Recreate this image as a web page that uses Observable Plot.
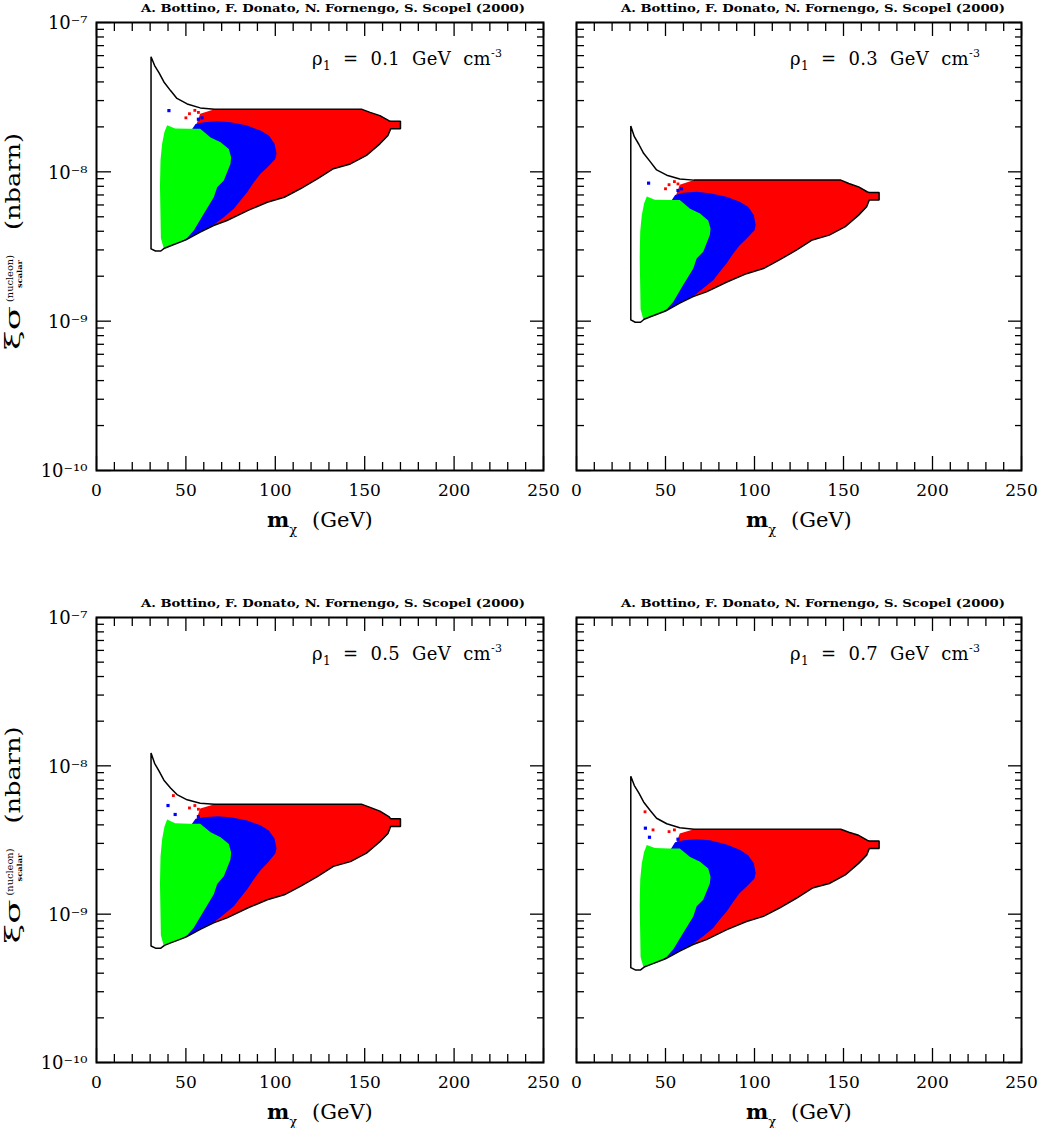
<!DOCTYPE html>
<html><head><meta charset="utf-8">
<script src="https://cdn.jsdelivr.net/npm/d3@7"></script>
<script src="https://cdn.jsdelivr.net/npm/@observablehq/plot@0.6"></script>
<style>
html,body{margin:0;padding:0;background:#fff;}
#wrap{position:relative;width:1038px;height:1128px;overflow:hidden;background:#fff;}
#wrap svg{position:absolute;}
</style></head><body><div id="wrap"></div>
<script>
// ---------- tick positions and labels ----------
const majorX = [0, 50, 100, 150, 200, 250];
const minorX = [10, 20, 30, 40, 60, 70, 80, 90, 110, 120, 130, 140, 160, 170, 180, 190, 210, 220, 230, 240];
const xTickLabels = ["0", "50", "100", "150", "200", "250"];
const majorY = [1e-10, 1e-9, 1e-8, 1e-7];
const minorY = [2e-10, 3e-10, 4e-10, 5e-10, 6e-10, 7e-10, 8e-10, 9e-10,
                2e-9, 3e-9, 4e-9, 5e-9, 6e-9, 7e-9, 8e-9, 9e-9,
                2e-8, 3e-8, 4e-8, 5e-8, 6e-8, 7e-8, 8e-8, 9e-8];
const yTickLabels = ["10⁻¹⁰", "10⁻⁹", "10⁻⁸", "10⁻⁷"];
const rhoValues = ["0.1", "0.3", "0.5", "0.7"];
const headerText = "A. Bottino, F. Donato, N. Fornengo, S. Scopel (2000)";

// ---------- boundary of the scanned region (m_chi in GeV) ----------
const outlineM = [30.5, 30.5, 32.5, 35, 37.7, 41.4, 45, 50.7, 58, 66, 148.5, 153, 158.5, 163.5, 164.5, 170, 170, 164.5, 163, 158.5, 151, 142, 132.5, 123.5, 114, 105, 95.5, 84.5, 73, 65.5, 58, 50, 41.5, 38, 36, 33, 30.5];
const outlineS_01 = [3.05e-9, 5.9e-8, 5.15e-8, 4.6e-8, 4.0e-8, 3.5e-8, 3.1e-8, 2.85e-8, 2.68e-8, 2.62e-8, 2.62e-8, 2.5e-8, 2.38e-8, 2.2e-8, 2.18e-8, 2.18e-8, 1.94e-8, 1.94e-8, 1.75e-8, 1.54e-8, 1.29e-8, 1.13e-8, 1.05e-8, 8.97e-9, 7.7e-9, 6.76e-9, 6.25e-9, 5.5e-9, 4.72e-9, 4.37e-9, 3.95e-9, 3.5e-9, 3.2e-9, 3.08e-9, 2.95e-9, 2.95e-9, 3.05e-9];
const outlineS_03 = [1.02e-9, 2.03e-8, 1.72e-8, 1.53e-8, 1.33e-8, 1.17e-8, 1.03e-8, 9.5e-9, 8.95e-9, 8.8e-9, 8.8e-9, 8.35e-9, 7.93e-9, 7.33e-9, 7.27e-9, 7.27e-9, 6.47e-9, 6.47e-9, 5.83e-9, 5.13e-9, 4.3e-9, 3.77e-9, 3.5e-9, 2.99e-9, 2.57e-9, 2.25e-9, 2.08e-9, 1.83e-9, 1.57e-9, 1.46e-9, 1.32e-9, 1.17e-9, 1.07e-9, 1.03e-9, 9.83e-10, 9.83e-10, 1.02e-9];
const outlineS_05 = [6.1e-10, 1.22e-8, 1.04e-8, 9.2e-9, 8.0e-9, 7.1e-9, 6.4e-9, 5.9e-9, 5.6e-9, 5.5e-9, 5.5e-9, 5.25e-9, 4.95e-9, 4.55e-9, 4.4e-9, 4.4e-9, 3.9e-9, 3.9e-9, 3.5e-9, 3.08e-9, 2.58e-9, 2.26e-9, 2.1e-9, 1.79e-9, 1.54e-9, 1.35e-9, 1.25e-9, 1.1e-9, 9.44e-10, 8.74e-10, 7.9e-10, 7.0e-10, 6.4e-10, 6.16e-10, 5.9e-10, 5.9e-10, 6.1e-10];
const outlineS_07 = [4.36e-10, 8.5e-9, 7.36e-9, 6.57e-9, 5.71e-9, 5.0e-9, 4.43e-9, 4.07e-9, 3.83e-9, 3.74e-9, 3.74e-9, 3.57e-9, 3.4e-9, 3.14e-9, 3.11e-9, 3.11e-9, 2.77e-9, 2.77e-9, 2.5e-9, 2.2e-9, 1.84e-9, 1.61e-9, 1.5e-9, 1.28e-9, 1.1e-9, 9.66e-10, 8.93e-10, 7.86e-10, 6.74e-10, 6.24e-10, 5.64e-10, 5.0e-10, 4.57e-10, 4.4e-10, 4.21e-10, 4.21e-10, 4.36e-10];

// ---------- red region ----------
const redM = [58, 66, 148.5, 153, 158.5, 163.5, 164.5, 170, 170, 164.5, 163, 158.5, 151, 142, 132.5, 123.5, 114, 105, 95.5, 84.5, 73, 65.5, 62, 60, 56];
const redS_01 = [2.45e-8, 2.62e-8, 2.62e-8, 2.5e-8, 2.38e-8, 2.2e-8, 2.18e-8, 2.18e-8, 1.94e-8, 1.94e-8, 1.75e-8, 1.54e-8, 1.29e-8, 1.13e-8, 1.05e-8, 8.97e-9, 7.7e-9, 6.76e-9, 6.25e-9, 5.5e-9, 4.72e-9, 4.37e-9, 4.2e-9, 1.2e-8, 2.1e-8];
const redS_03 = [8.2e-9, 8.8e-9, 8.8e-9, 8.35e-9, 7.93e-9, 7.33e-9, 7.27e-9, 7.27e-9, 6.47e-9, 6.47e-9, 5.83e-9, 5.13e-9, 4.3e-9, 3.77e-9, 3.5e-9, 2.99e-9, 2.57e-9, 2.25e-9, 2.08e-9, 1.83e-9, 1.57e-9, 1.46e-9, 1.4e-9, 4.0e-9, 7.0e-9];
const redS_05 = [5.15e-9, 5.5e-9, 5.5e-9, 5.25e-9, 4.95e-9, 4.55e-9, 4.4e-9, 4.4e-9, 3.9e-9, 3.9e-9, 3.5e-9, 3.08e-9, 2.58e-9, 2.26e-9, 2.1e-9, 1.79e-9, 1.54e-9, 1.35e-9, 1.25e-9, 1.1e-9, 9.44e-10, 8.74e-10, 8.4e-10, 2.4e-9, 4.4e-9];
const redS_07 = [3.5e-9, 3.74e-9, 3.74e-9, 3.57e-9, 3.4e-9, 3.14e-9, 3.11e-9, 3.11e-9, 2.77e-9, 2.77e-9, 2.5e-9, 2.2e-9, 1.84e-9, 1.61e-9, 1.5e-9, 1.28e-9, 1.1e-9, 9.66e-10, 8.93e-10, 7.86e-10, 6.74e-10, 6.24e-10, 6.0e-10, 1.71e-9, 3.0e-9];

// ---------- blue region ----------
const blueM = [55.4, 60, 67.5, 75, 84.3, 91.7, 96.4, 99.6, 100.7, 100, 95.5, 91.7, 88, 84.3, 80.5, 76.8, 71.2, 66, 58, 50, 47, 48, 53];
const blueS_01 = [2.09e-8, 2.15e-8, 2.18e-8, 2.15e-8, 2.04e-8, 1.89e-8, 1.75e-8, 1.54e-8, 1.32e-8, 1.22e-8, 1.07e-8, 9.7e-9, 8.5e-9, 7.3e-9, 6.43e-9, 5.65e-9, 4.97e-9, 4.45e-9, 3.95e-9, 3.5e-9, 3.4e-9, 8e-9, 1.9e-8];
const blueS_03 = [7.0e-9, 7.25e-9, 7.35e-9, 7.2e-9, 6.8e-9, 6.3e-9, 5.83e-9, 5.13e-9, 4.4e-9, 4.07e-9, 3.57e-9, 3.23e-9, 2.83e-9, 2.43e-9, 2.14e-9, 1.88e-9, 1.66e-9, 1.48e-9, 1.32e-9, 1.17e-9, 1.13e-9, 2.67e-9, 6.33e-9];
const blueS_05 = [4.39e-9, 4.5e-9, 4.58e-9, 4.5e-9, 4.28e-9, 3.97e-9, 3.67e-9, 3.23e-9, 2.77e-9, 2.56e-9, 2.2e-9, 1.98e-9, 1.72e-9, 1.47e-9, 1.29e-9, 1.13e-9, 9.94e-10, 8.9e-10, 7.9e-10, 7.0e-10, 6.8e-10, 1.6e-9, 4.0e-9];
const blueS_07 = [3.05e-9, 3.15e-9, 3.2e-9, 3.15e-9, 2.95e-9, 2.72e-9, 2.5e-9, 2.2e-9, 1.89e-9, 1.74e-9, 1.53e-9, 1.39e-9, 1.21e-9, 1.04e-9, 9.19e-10, 8.07e-10, 7.1e-10, 6.36e-10, 5.64e-10, 5.0e-10, 4.86e-10, 1.14e-9, 2.75e-9];

// ---------- green region ----------
const greenM = [37.5, 36, 35.8, 35.5, 35.8, 36.7, 38, 39.5, 44, 52, 58, 63.8, 69.4, 74, 75.3, 74.9, 71.2, 67.5, 65.6, 60, 54.4, 50.7, 45.1, 40];
const greenS_01 = [3.1e-9, 3.6e-9, 5e-9, 8e-9, 1.2e-8, 1.54e-8, 1.85e-8, 2.05e-8, 1.95e-8, 1.94e-8, 1.94e-8, 1.7e-8, 1.58e-8, 1.42e-8, 1.25e-8, 1.13e-8, 8.75e-9, 7.88e-9, 6.76e-9, 5.24e-9, 4.05e-9, 3.61e-9, 3.3e-9, 3.15e-9];
const greenS_03 = [1.03e-9, 1.2e-9, 1.67e-9, 2.67e-9, 4.0e-9, 5.13e-9, 6.17e-9, 6.83e-9, 6.5e-9, 6.47e-9, 6.47e-9, 5.67e-9, 5.27e-9, 4.73e-9, 4.17e-9, 3.77e-9, 2.92e-9, 2.63e-9, 2.25e-9, 1.75e-9, 1.35e-9, 1.2e-9, 1.1e-9, 1.05e-9];
const greenS_05 = [6.2e-10, 7.2e-10, 1.0e-9, 1.6e-9, 2.45e-9, 3.2e-9, 3.88e-9, 4.35e-9, 4.1e-9, 4.07e-9, 4.07e-9, 3.57e-9, 3.3e-9, 2.97e-9, 2.6e-9, 2.33e-9, 1.8e-9, 1.6e-9, 1.36e-9, 1.05e-9, 8.1e-10, 7.22e-10, 6.6e-10, 6.3e-10];
const greenS_07 = [4.43e-10, 5.14e-10, 7.14e-10, 1.14e-9, 1.71e-9, 2.2e-9, 2.64e-9, 2.93e-9, 2.79e-9, 2.77e-9, 2.77e-9, 2.43e-9, 2.26e-9, 2.03e-9, 1.79e-9, 1.61e-9, 1.25e-9, 1.13e-9, 9.66e-10, 7.49e-10, 5.79e-10, 5.16e-10, 4.71e-10, 4.5e-10];

// ---------- isolated points near the upper-left corner ----------
const speckBlueM_01 = [40.5, 57, 59];
const speckBlueS_01 = [2.57e-8, 2.25e-8, 2.3e-8];
const speckRedM_01 = [50, 52, 55, 57];
const speckRedS_01 = [2.3e-8, 2.45e-8, 2.58e-8, 2.5e-8];
const speckBlueM_03 = [40.5, 57, 59];
const speckBlueS_03 = [8.4e-9, 7.5e-9, 7.7e-9];
const speckRedM_03 = [50, 52, 55, 57];
const speckRedS_03 = [7.7e-9, 8.2e-9, 8.6e-9, 8.3e-9];
const speckBlueM_05 = [40, 44, 57];
const speckBlueS_05 = [5.4e-9, 4.7e-9, 4.55e-9];
const speckRedM_05 = [43, 52, 55, 57];
const speckRedS_05 = [6.3e-9, 5.2e-9, 5.4e-9, 5.1e-9];
const speckBlueM_07 = [38.7, 41, 57];
const speckBlueS_07 = [3.8e-9, 3.3e-9, 3.2e-9];
const speckRedM_07 = [38.5, 43, 52, 55];
const speckRedS_07 = [4.9e-9, 3.7e-9, 3.6e-9, 3.7e-9];

// ---------- layout ----------
const panels = [
  {rho: rhoValues[0], outS: outlineS_01, redS: redS_01, blueS: blueS_01, greenS: greenS_01,
   sb: [speckBlueM_01, speckBlueS_01], sr: [speckRedM_01, speckRedS_01],
   left: 0, top: 0, width: 560, height: 580, mL: 96, mR: 17, mT: 22, mB: 110, yAxis: true},
  {rho: rhoValues[1], outS: outlineS_03, redS: redS_03, blueS: blueS_03, greenS: greenS_03,
   sb: [speckBlueM_03, speckBlueS_03], sr: [speckRedM_03, speckRedS_03],
   left: 560, top: 0, width: 478, height: 580, mL: 16, mR: 17, mT: 22, mB: 110, yAxis: false},
  {rho: rhoValues[2], outS: outlineS_05, redS: redS_05, blueS: blueS_05, greenS: greenS_05,
   sb: [speckBlueM_05, speckBlueS_05], sr: [speckRedM_05, speckRedS_05],
   left: 0, top: 580, width: 560, height: 548, mL: 96, mR: 17, mT: 37, mB: 66, yAxis: true},
  {rho: rhoValues[3], outS: outlineS_07, redS: redS_07, blueS: blueS_07, greenS: greenS_07,
   sb: [speckBlueM_07, speckBlueS_07], sr: [speckRedM_07, speckRedS_07],
   left: 560, top: 580, width: 478, height: 548, mL: 16, mR: 17, mT: 37, mB: 66, yAxis: false}
];

const FONT = "'DejaVu Serif', 'Liberation Serif', serif";
const pts = (M, S) => M.map((m, i) => ({m, s: S[i]}));
const tickOpts = {fill: "none", label: null, stroke: "#000", strokeWidth: 1.3};

function drawPanel(p) {
  const chart = Plot.plot({
    width: p.width, height: p.height,
    marginLeft: p.mL, marginRight: p.mR, marginTop: p.mT, marginBottom: p.mB,
    style: {fontFamily: FONT, color: "#000", background: "transparent", overflow: "visible"},
    x: {domain: [0, 250]},
    y: {type: "log", domain: [1e-10, 1e-7]},
    marks: [
      Plot.line(pts(redM, p.redS), {x: "m", y: "s", fill: "#ff0000", stroke: "none"}),
      Plot.line(pts(blueM, p.blueS), {x: "m", y: "s", fill: "#0000ff", stroke: "none"}),
      Plot.line(pts(greenM, p.greenS), {x: "m", y: "s", fill: "#00ff00", stroke: "none"}),
      Plot.dot(pts(p.sb[0], p.sb[1]), {x: "m", y: "s", symbol: "square", r: 1.8, fill: "#0000ff", stroke: "none"}),
      Plot.dot(pts(p.sr[0], p.sr[1]), {x: "m", y: "s", symbol: "square", r: 1.6, fill: "#ff0000", stroke: "none"}),
      Plot.line(pts(outlineM, p.outS), {x: "m", y: "s", stroke: "#000", strokeWidth: 1.5, strokeLinejoin: "miter"}),
      Plot.axisX({...tickOpts, anchor: "bottom", ticks: minorX, tickSize: -8}),
      Plot.axisX({...tickOpts, anchor: "bottom", ticks: majorX, tickSize: -14}),
      Plot.axisX({...tickOpts, anchor: "top", ticks: minorX, tickSize: -8}),
      Plot.axisX({...tickOpts, anchor: "top", ticks: majorX, tickSize: -13}),
      Plot.axisY({...tickOpts, anchor: "left", ticks: minorY, tickSize: -8}),
      Plot.axisY({...tickOpts, anchor: "left", ticks: majorY, tickSize: -15}),
      Plot.axisY({...tickOpts, anchor: "right", ticks: minorY, tickSize: -7}),
      Plot.axisY({...tickOpts, anchor: "right", ticks: majorY, tickSize: -14}),
      Plot.axisX({anchor: "bottom", ticks: majorX, tickSize: 0, tickPadding: 13, label: null, fontSize: 17,
                  tickFormat: d => xTickLabels[majorX.indexOf(d)]}),
      p.yAxis ? Plot.axisY({anchor: "left", ticks: majorY, tickSize: 0, tickPadding: 9, label: null, fontSize: 18, dy: 1,
                  tickFormat: d => yTickLabels[majorY.indexOf(d)]}) : null,
      Plot.frame({stroke: "#000", strokeWidth: 2})
    ]
  });
  chart.style.left = p.left + "px";
  chart.style.top = p.top + "px";

  const svg = d3.select(chart);
  const fL = p.mL, fR = p.width - p.mR, fT = p.mT, fB = p.height - p.mB;
  const fCx = (fL + fR) / 2, fCy = (fT + fB) / 2;

  // header
  svg.append("text")
    .attr("x", fL + 45).attr("y", fT - 10).attr("text-anchor", "start")
    .attr("font-family", FONT).attr("font-weight", "bold").attr("font-size", 11)
    .attr("textLength", 384).attr("lengthAdjust", "spacingAndGlyphs")
    .attr("fill", "#000").text(headerText);

  // rho annotation
  const rt = svg.append("text")
    .attr("x", fR - 231).attr("y", fT + 43).attr("text-anchor", "start")
    .attr("font-family", FONT).attr("font-size", 18).attr("fill", "#000")
    .attr("textLength", 190).attr("lengthAdjust", "spacing")
    .style("white-space", "pre");
  rt.append("tspan").text("ρ");
  rt.append("tspan").attr("font-size", 12).attr("dy", 5).text("1");
  rt.append("tspan").attr("dy", -5).text("  =  " + p.rho + "  GeV  cm");
  rt.append("tspan").attr("font-size", 11).attr("dy", -8).text("-3");

  // x label
  const xl = svg.append("text")
    .attr("x", fCx - 52.5).attr("y", fB + 57).attr("text-anchor", "start")
    .attr("font-family", FONT).attr("font-size", 21).attr("fill", "#000")
    .style("white-space", "pre");
  xl.append("tspan").attr("font-weight", "bold").text("m");
  xl.append("tspan").attr("font-size", 13).attr("dy", 7).text("χ");
  xl.append("tspan").attr("dy", -7).attr("x", fCx - 7.5).text("(GeV)");

  // y label
  if (p.yAxis) {
    const g = svg.append("g").attr("transform", `translate(20,${fCy}) rotate(-90)`)
      .attr("font-family", FONT).attr("fill", "#000").attr("text-anchor", "start");
    g.append("text").attr("x", -104).attr("y", 0).attr("font-size", 20)
      .attr("textLength", 44).attr("lengthAdjust", "spacingAndGlyphs").text("ξσ");
    g.append("text").attr("x", -56).attr("y", -7).attr("font-size", 10)
      .attr("textLength", 47).attr("lengthAdjust", "spacingAndGlyphs").text("(nucleon)");
    g.append("text").attr("x", -42).attr("y", 2).attr("font-size", 7).attr("font-weight", "bold")
      .attr("textLength", 28).attr("lengthAdjust", "spacingAndGlyphs").text("scalar");
    g.append("text").attr("x", 16).attr("y", 0).attr("font-size", 21)
      .attr("textLength", 97).attr("lengthAdjust", "spacingAndGlyphs").text("(nbarn)");
  }
  document.getElementById("wrap").appendChild(chart);
}

panels.forEach(drawPanel);
</script>
</body></html>
